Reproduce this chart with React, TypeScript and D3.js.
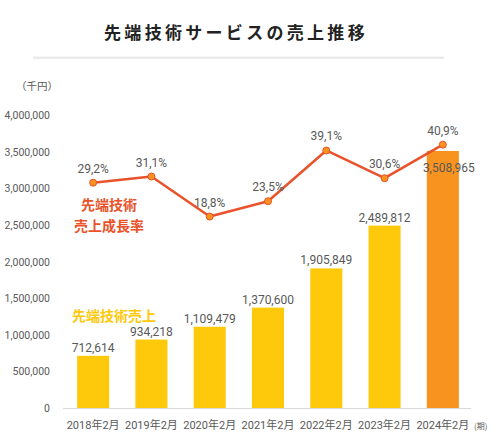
import React from "react";
import * as d3 from "d3";

const categories = ["2018年2月", "2019年2月", "2020年2月", "2021年2月", "2022年2月", "2023年2月", "2024年2月"];
const sales = [712614, 934218, 1109479, 1370600, 1905849, 2489812, 3508965];
const growth = [0.292, 0.311, 0.188, 0.235, 0.391, 0.306, 0.409];
const growthLabels = ["29,2%", "31,1%", "18,8%", "23,5%", "39,1%", "30,6%", "40,9%"];
const yTicks = [0, 500000, 1000000, 1500000, 2000000, 2500000, 3000000, 3500000, 4000000];

const W = 500;
const H = 441;
const YELLOW = "#FFC90B";
const ORANGE = "#F7931E";
const LINE = "#E9522A";
const TEXT = "#595959";
const FONT = "Roboto, 'Noto Sans CJK JP', sans-serif";
const JFONT = "'Noto Sans CJK JP', sans-serif";

export default function App() {
  const x = d3.scaleBand<string>().domain(categories).range([64, 472]).paddingInner(0.45).paddingOuter(0.225);
  const y = d3.scaleLinear().domain([0, 4000000]).range([408, 115]);
  const y2 = d3.scaleLinear().domain([-0.4, 0.5]).range([408, 115]);
  const fmt = d3.format(",");
  const cx = (c: string) => (x(c) as number) + x.bandwidth() / 2;
  const line = d3
    .line<number>()
    .x((_, i) => cx(categories[i]))
    .y((d) => y2(d));
  const last = categories.length - 1;

  return (
    <svg width={W} height={H} style={{ position: "absolute", left: 0, top: 0, background: "#fff" }}>
      <text x={236} y={39} textAnchor="middle" fontFamily={JFONT} fontWeight="bold" fontSize={17} letterSpacing={3.3} fill="#222">
        先端技術サービスの売上推移
      </text>
      <rect x={33} y={56.5} width={411} height={2.5} fill="#ebebeb" />
      <text x={16} y={90} fontFamily={JFONT} fontSize={10.5} fill={TEXT}>
        （千円）
      </text>
      {yTicks.map((t) => (
        <text key={t} x={50} y={y(t) + 4} textAnchor="end" fontFamily={FONT} fontSize={10.5} fill={TEXT}>
          {fmt(t)}
        </text>
      ))}
      <line x1={63} x2={471} y1={408.5} y2={408.5} stroke="#d9d9d9" strokeWidth={1} />
      {categories.map((c, i) => (
        <rect key={c} x={x(c)} y={y(sales[i])} width={x.bandwidth()} height={408 - y(sales[i])} fill={i === last ? ORANGE : YELLOW} />
      ))}
      {categories.map((c, i) => (
        <text
          key={"v" + c}
          x={i === last ? cx(c) + 6 : cx(c)}
          y={i === last ? y(sales[i]) + 21 : y(sales[i]) - 4}
          textAnchor="middle"
          fontFamily={FONT}
          fontSize={12}
          fill={TEXT}
        >
          {fmt(sales[i])}
        </text>
      ))}
      {categories.map((c) => (
        <text key={"x" + c} x={cx(c)} y={429} textAnchor="middle" fontFamily={FONT} fontSize={11} fill={TEXT}>
          {c}
        </text>
      ))}
      <text x={474} y={429} fontFamily={JFONT} fontSize={8} fill={TEXT}>
        (期)
      </text>
      <path d={line(growth) || ""} fill="none" stroke={LINE} strokeWidth={2.5} strokeLinejoin="round" />
      {growth.map((g, i) => (
        <circle key={"m" + i} cx={cx(categories[i])} cy={y2(g)} r={3.5} fill={ORANGE} stroke={LINE} strokeWidth={1} />
      ))}
      {growth.map((g, i) => (
        <text key={"g" + i} x={cx(categories[i])} y={y2(g) - 10} textAnchor="middle" fontFamily={FONT} fontSize={12} fill={TEXT}>
          {growthLabels[i]}
        </text>
      ))}
      <text x={109} y={210} textAnchor="middle" fontFamily={JFONT} fontWeight="bold" fontSize={14} fill={LINE}>
        先端技術
      </text>
      <text x={109} y={231} textAnchor="middle" fontFamily={JFONT} fontWeight="bold" fontSize={14} fill={LINE}>
        売上成長率
      </text>
      <text x={114} y={321} textAnchor="middle" fontFamily={JFONT} fontWeight="bold" fontSize={14} fill={YELLOW}>
        先端技術売上
      </text>
    </svg>
  );
}
